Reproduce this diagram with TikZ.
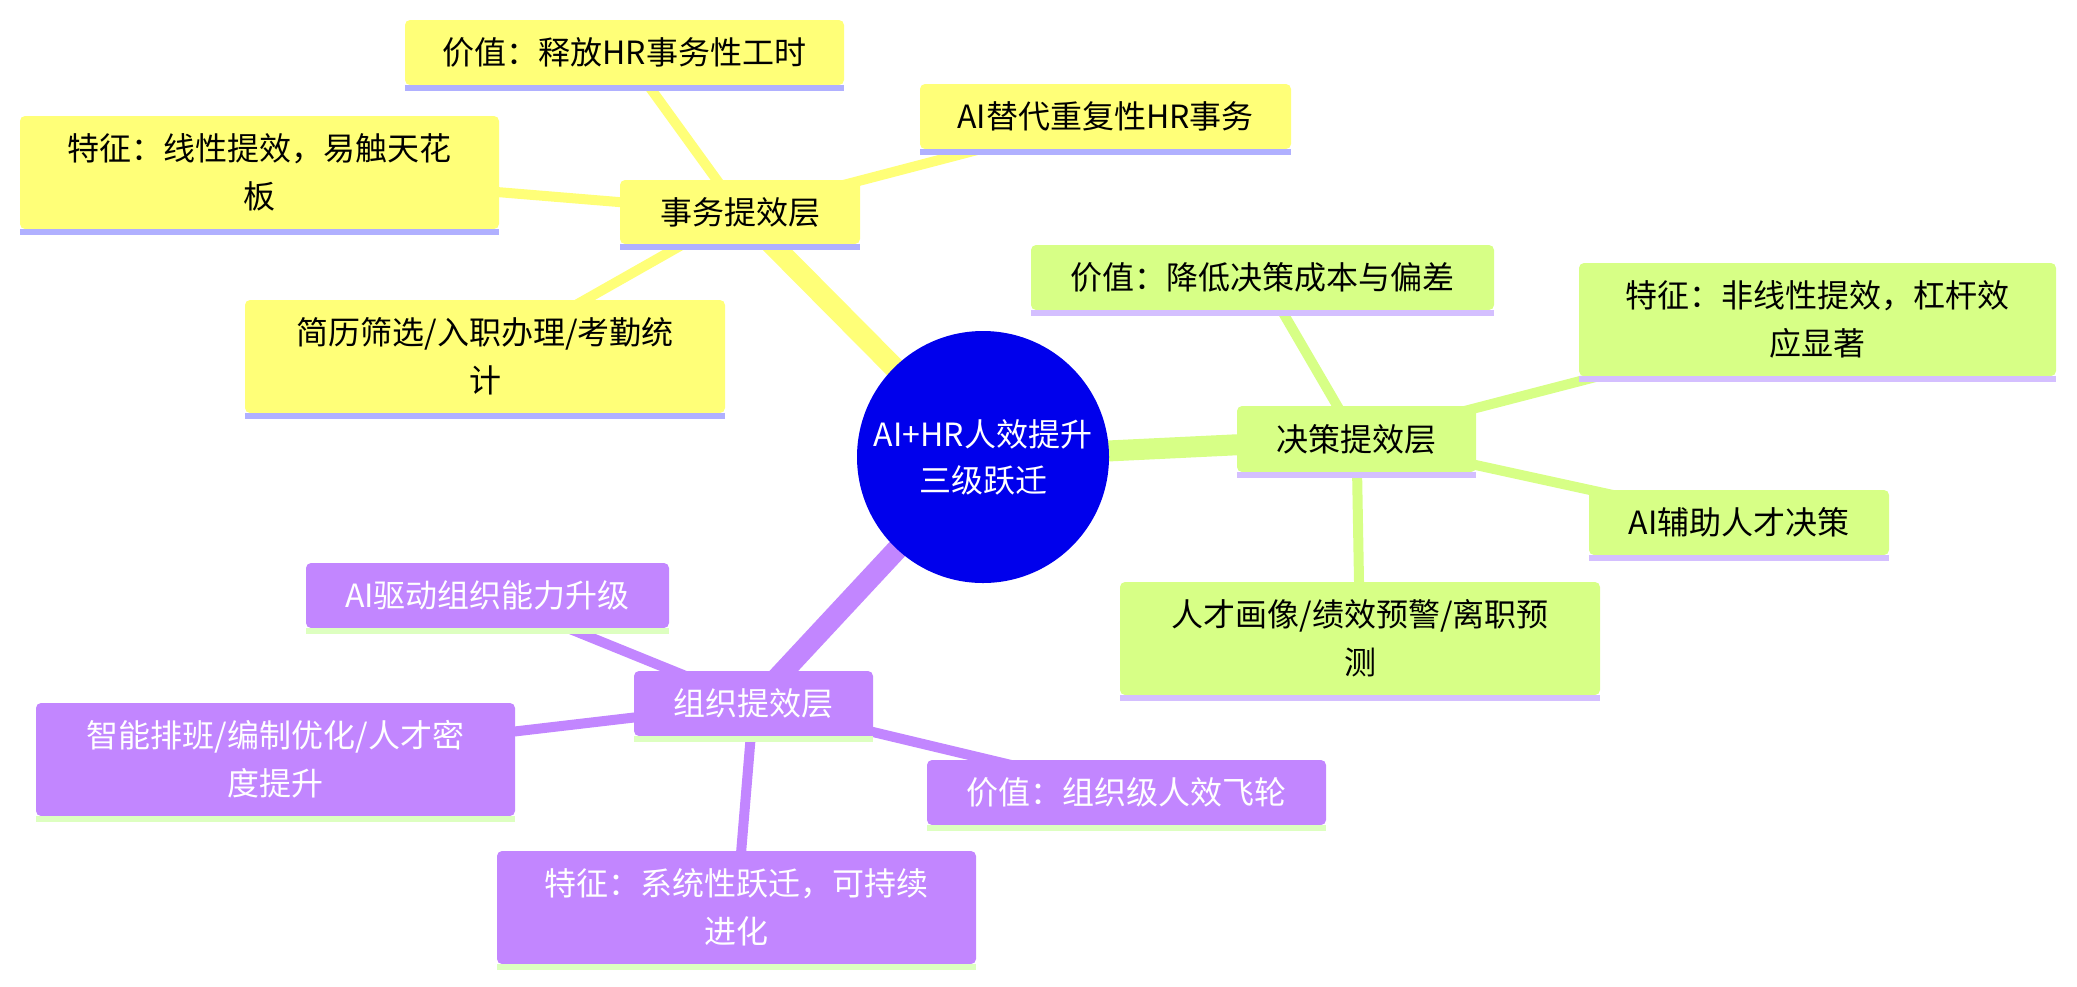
\documentclass[tikz,border=0pt]{standalone}
\usepackage{fontspec}
\newfontfamily\cjk{Noto Sans CJK SC}
\usetikzlibrary{backgrounds}
\definecolor{secY}{HTML}{FFFF78}
\definecolor{secG}{HTML}{D7FF86}
\definecolor{secP}{HTML}{C286FF}
\definecolor{barY}{HTML}{B0B0FF}
\definecolor{barG}{HTML}{D4BFFF}
\definecolor{barP}{HTML}{DDFFC0}
\definecolor{rootc}{HTML}{0000EC}
\newcommand\mmbar[2]{\fill[#2] (#1.south west) rectangle ([yshift=-3pt]#1.south east);}
\tikzset{
  mmbox/.style={rectangle, rounded corners=2.5pt, inner sep=0pt, outer sep=0pt, align=center,
    font=\cjk\fontsize{16pt}{24pt}\selectfont},
  wh/.style 2 args={minimum width={#1*0.5pt}, minimum height={#2*0.5pt}},
  ybox/.style={mmbox, fill=secY, text=black},
  gbox/.style={mmbox, fill=secG, text=black},
  pbox/.style={mmbox, fill=secP, text=white},
  thick edge/.style={line width=10.5pt},
  thin edge/.style={line width=5pt},
}
\begin{document}
\begin{tikzpicture}[x=0.5pt,y=-0.5pt]
\useasboundingbox (0,0) rectangle (2077,986);
% root
\node[circle, fill=rootc, text=white, inner sep=0pt, minimum size=126pt, align=center,
  font=\cjk\fontsize{16pt}{23pt}\selectfont] (root) at (983,457) {AI+HR人效提升\\三级跃迁};
% yellow section
\node[ybox, wh={240}{64}] (Y0) at (740,212) {事务提效层};
\node[ybox, wh={439}{65}] (Y1) at (624.5,52.5) {价值：释放HR事务性工时};
\node[ybox, wh={479}{113}] (Y2) at (259.5,172.5) {特征：线性提效，易触天花\\板};
\node[ybox, wh={480}{113}] (Y3) at (485,356.5) {简历筛选/入职办理/考勤统\\计};
\node[ybox, wh={371}{65}] (Y4) at (1105.5,116.5) {AI替代重复性HR事务};
\foreach \n in {Y0,Y1,Y2,Y3,Y4} {\mmbar{\n}{barY}}
% green section
\node[gbox, wh={239}{66}] (G0) at (1356.5,439) {决策提效层};
\node[gbox, wh={463}{65}] (G1) at (1262.5,277.5) {价值：降低决策成本与偏差};
\node[gbox, wh={477}{113}] (G2) at (1817.5,319.5) {特征：非线性提效，杠杆效\\应显著};
\node[gbox, wh={300}{65}] (G3) at (1739,522.5) {AI辅助人才决策};
\node[gbox, wh={480}{113}] (G4) at (1360,638.5) {人才画像/绩效预警/离职预\\测};
\foreach \n in {G0,G1,G2,G3,G4} {\mmbar{\n}{barG}}
% purple section
\node[pbox, wh={239}{65}] (P0) at (753.5,703.5) {组织提效层};
\node[pbox, wh={363}{65}] (P1) at (487.5,595.5) {AI驱动组织能力升级};
\node[pbox, wh={479}{113}] (P2) at (275.5,759.5) {智能排班/编制优化/人才密\\度提升};
\node[pbox, wh={399}{65}] (P3) at (1126.5,792.5) {价值：组织级人效飞轮};
\node[pbox, wh={479}{113}] (P4) at (736.5,907.5) {特征：系统性跃迁，可持续\\进化};
\foreach \n in {P0,P1,P2,P3,P4} {\mmbar{\n}{barP}}
% edges
\begin{scope}[on background layer]
  \draw[secY, thick edge] (root.center) -- (Y0.center);
  \draw[secG, thick edge] (root.center) -- (G0.center);
  \draw[secP, thick edge] (root.center) -- (P0.center);
  \foreach \n in {Y1,Y2,Y3,Y4} {\draw[secY, thin edge] (Y0.center) -- (\n.center);}
  \foreach \n in {G1,G2,G3,G4} {\draw[secG, thin edge] (G0.center) -- (\n.center);}
  \foreach \n in {P1,P2,P3,P4} {\draw[secP, thin edge] (P0.center) -- (\n.center);}
\end{scope}
\end{tikzpicture}
\end{document}
